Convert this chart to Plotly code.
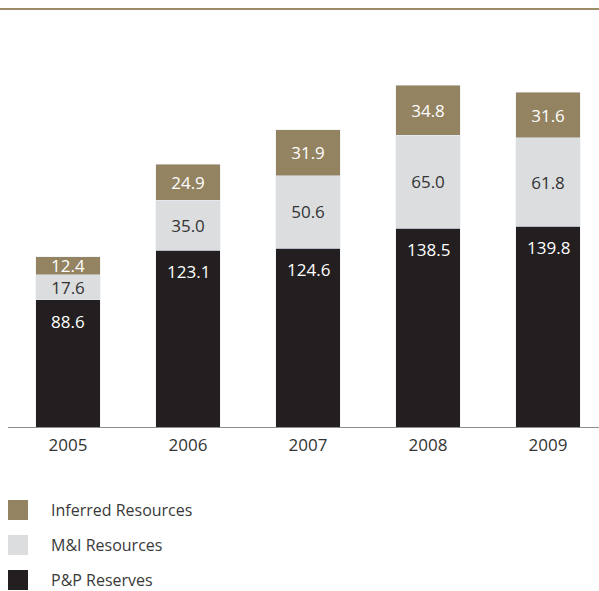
import plotly.graph_objects as go

years = ["2005", "2006", "2007", "2008", "2009"]
pp_reserves = [88.6, 123.1, 124.6, 138.5, 139.8]
mi_resources = [17.6, 35.0, 50.6, 65.0, 61.8]
inferred_resources = [12.4, 24.9, 31.9, 34.8, 31.6]
series_names = ["Inferred Resources", "M&I Resources", "P&P Reserves"]

C_INF = "#938361"
C_MI = "#dcdddf"
C_PP = "#231f20"
FONT = "Open Sans"

W, H = 599, 591
M_T, M_B, M_L, M_R = 54, 164, 8, 0
PLOT_H = H - M_T - M_B


def py(pix):
    """convert pixel y (from top) to paper y"""
    return (H - M_B - pix) / PLOT_H


fig = go.Figure()
fig.add_trace(go.Bar(
    x=years, y=pp_reserves, name=series_names[2], marker_color=C_PP,
    width=0.535, showlegend=False, hoverinfo="y"))
fig.add_trace(go.Bar(
    x=years, y=mi_resources, name=series_names[1], marker_color=C_MI,
    width=0.535, showlegend=False, text=[f"{v:.1f}" for v in mi_resources],
    textposition="inside", insidetextanchor="middle", constraintext="none",
    textfont=dict(family=FONT, size=17, color="#333333")))
fig.add_trace(go.Bar(
    x=years, y=inferred_resources, name=series_names[0], marker_color=C_INF,
    width=0.535, showlegend=False, text=[f"{v:.1f}" for v in inferred_resources],
    textposition="inside", insidetextanchor="middle", constraintext="none",
    textfont=dict(family=FONT, size=17, color="#ffffff")))

annotations = []
for i, v in enumerate(pp_reserves):
    annotations.append(dict(
        x=i, y=v, xref="x", yref="y", text=f"{v:.1f}", showarrow=False,
        yanchor="top", yshift=-8,
        font=dict(family=FONT, size=17, color="#ffffff")))

shapes = [dict(type="line", xref="paper", yref="paper", x0=-0.02, x1=1.02,
               y0=py(9), y1=py(9), line=dict(color="#9a8a66", width=2))]

legend_items = [(series_names[0], C_INF, 510), (series_names[1], C_MI, 545),
                (series_names[2], C_PP, 580)]
plot_w = W - M_L - M_R
for name, col, cy in legend_items:
    shapes.append(dict(type="rect", xref="paper", yref="paper",
                       x0=(8 - M_L) / plot_w, x1=(28 - M_L) / plot_w,
                       y0=py(cy + 10), y1=py(cy - 10),
                       fillcolor=col, line=dict(width=0)))
    annotations.append(dict(
        x=(49 - M_L) / plot_w, y=py(cy), xref="paper", yref="paper",
        text=name, showarrow=False, xanchor="left", yanchor="middle",
        font=dict(family=FONT, size=16, color="#3a3a3a")))

fig.update_layout(
    width=W, height=H, barmode="stack",
    margin=dict(t=M_T, b=M_B, l=M_L, r=M_R, pad=0),
    paper_bgcolor="white", plot_bgcolor="white",
    font=dict(family=FONT),
    xaxis=dict(type="category", range=[-0.5, 4.425], showgrid=False,
               showline=True, linecolor="#8c8c8c", linewidth=1, ticks="",
               tickfont=dict(family=FONT, size=17, color="#333333"),
               ticklabelstandoff=3),
    yaxis=dict(range=[0, 260], visible=False, showgrid=False),
    shapes=shapes, annotations=annotations,
)

fig.write_html("out.html", post_script="document.body.style.margin='0';",
               config={"displayModeBar": False})
